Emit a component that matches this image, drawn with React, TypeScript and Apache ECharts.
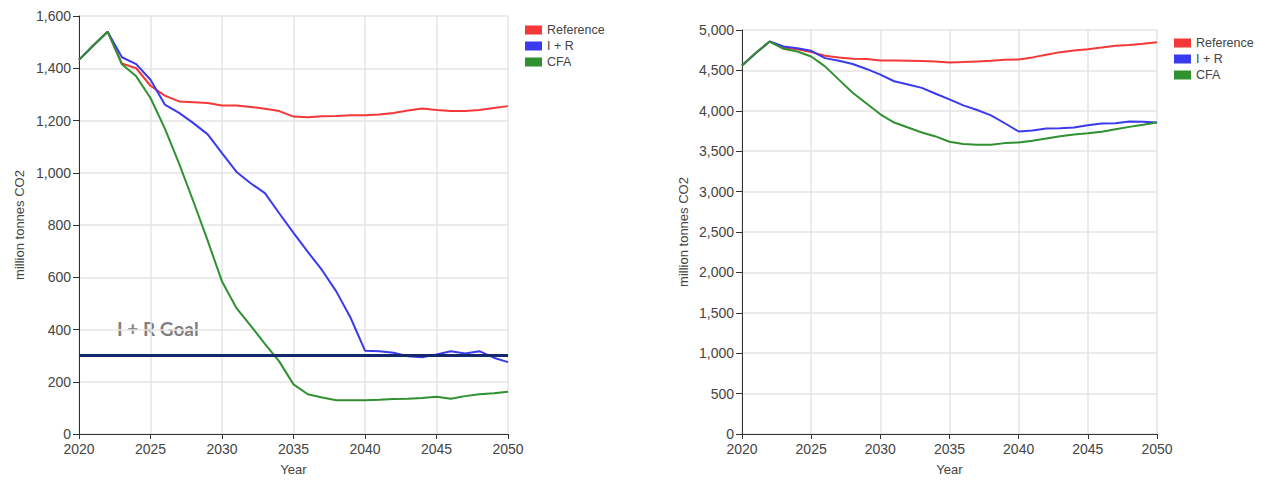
import React, { useEffect, useRef } from "react";
import * as echarts from "echarts";

const years = [
  2020, 2021, 2022, 2023, 2024, 2025, 2026, 2027, 2028, 2029, 2030, 2031, 2032, 2033, 2034, 2035,
  2036, 2037, 2038, 2039, 2040, 2041, 2042, 2043, 2044, 2045, 2046, 2047, 2048, 2049, 2050,
];

// Left chart
const refLeft = [
  1432, 1487, 1540, 1418, 1400, 1333, 1295, 1273, 1270, 1267, 1257, 1257, 1252, 1245, 1236, 1215,
  1212, 1216, 1217, 1220, 1220, 1223, 1229, 1238, 1246, 1240, 1236, 1236, 1240, 1248, 1255,
];
const irLeft = [
  1432, 1487, 1540, 1442, 1416, 1356, 1261, 1229, 1190, 1147, 1075, 1004, 960, 922, 845, 770,
  697, 627, 545, 444, 319, 317, 311, 298, 294, 304, 317, 308, 317, 292, 275,
];
const cfaLeft = [
  1432, 1487, 1540, 1415, 1369, 1286, 1170, 1035, 890, 740, 584, 483, 415, 345, 278, 190,
  152, 140, 129, 129, 129, 131, 134, 135, 138, 143, 135, 145, 152, 156, 162,
];
const goalLeft = 302;
const goalLabel = "I + R Goal";

// Right chart
const refRight = [
  4562, 4715, 4857, 4783, 4763, 4726, 4681, 4660, 4644, 4640, 4623, 4623, 4619, 4615, 4611, 4599,
  4603, 4611, 4619, 4632, 4636, 4661, 4693, 4726, 4746, 4763, 4783, 4804, 4815, 4830, 4848,
];
const irRight = [
  4562, 4715, 4857, 4795, 4775, 4742, 4652, 4620, 4579, 4518, 4448, 4366, 4325, 4284, 4211, 4141,
  4067, 4010, 3944, 3846, 3744, 3755, 3781, 3785, 3793, 3822, 3842, 3846, 3867, 3863, 3855,
];
const cfaRight = [
  4562, 4715, 4857, 4767, 4734, 4672, 4550, 4386, 4223, 4090, 3957, 3855, 3793, 3732, 3683, 3617,
  3588, 3580, 3580, 3600, 3609, 3629, 3658, 3686, 3707, 3723, 3740, 3772, 3801, 3826, 3855,
];

const seriesNames = ["Reference", "I + R", "CFA"];
const seriesColors = ["#f43737", "#3a3af0", "#2f912f"];
const yAxisName = "million tonnes CO2";
const xAxisName = "Year";

const FONT = "'Liberation Sans', Arial, sans-serif";

function pairs(vals: number[]) {
  return years.map((y, i) => [y, vals[i]]);
}

export default function App() {
  const ref = useRef<HTMLDivElement>(null);
  useEffect(() => {
    if (!ref.current) return;
    const chart = echarts.init(ref.current, undefined, { renderer: "svg" });

    const axisCommon = {
      axisLine: { show: true, lineStyle: { color: "#333", width: 1 } },
      splitLine: { show: true, lineStyle: { color: "#e5e5e5", width: 1.5 } },
      nameTextStyle: { color: "#444", fontSize: 13, fontFamily: FONT },
    };

    const makeX = (gridIndex: number) => ({
      ...axisCommon,
      type: "value",
      gridIndex,
      min: 2020,
      max: 2050,
      interval: 5,
      name: xAxisName,
      nameLocation: "middle",
      nameGap: 29,
      axisTick: { show: true, length: 5, lineStyle: { color: "#333" } },
      axisLabel: {
        color: "#444",
        fontSize: 14,
        fontFamily: FONT,
        margin: 8,
        formatter: (v: number) => String(v),
      },
    });

    const makeY = (gridIndex: number, max: number, interval: number, gap: number) => ({
      ...axisCommon,
      type: "value",
      gridIndex,
      min: 0,
      max,
      interval,
      name: yAxisName,
      nameLocation: "middle",
      nameGap: gap,
      axisTick: { show: true, length: 6, lineStyle: { color: "#333" } },
      axisLabel: { color: "#444", fontSize: 14, fontFamily: FONT, margin: 8 },
    });

    const mkSeries = (vals: number[], idx: number, gridIdx: number, extra: any = {}) => ({
      type: "line",
      name: seriesNames[idx],
      xAxisIndex: gridIdx,
      yAxisIndex: gridIdx,
      data: pairs(vals),
      showSymbol: false,
      symbol: "none",
      lineStyle: { color: seriesColors[idx], width: 2 },
      itemStyle: { color: seriesColors[idx] },
      ...extra,
    });

    const legendCommon = {
      orient: "vertical",
      icon: "rect",
      padding: 0,
      itemWidth: 17,
      itemHeight: 9,
      itemGap: 0,
      textStyle: { color: "#444", fontSize: 12.5, fontFamily: FONT, lineHeight: 16 },
      data: seriesNames,
    };

    chart.setOption({
      animation: false,
      backgroundColor: "#fff",
      grid: [
        { left: 79, top: 16, width: 429, height: 421 },
        { left: 742, top: 30, width: 415, height: 407 },
      ],
      legend: [
        { ...legendCommon, left: 525, top: 22 },
        { ...legendCommon, left: 1174, top: 35 },
      ],
      xAxis: [makeX(0), makeX(1)],
      yAxis: [makeY(0, 1600, 200, 53), makeY(1, 5000, 500, 52)],
      series: [
        mkSeries(refLeft, 0, 0),
        mkSeries(irLeft, 1, 0),
        mkSeries(cfaLeft, 2, 0, {
          markLine: {
            silent: true,
            symbol: "none",
            label: { show: false },
            lineStyle: { color: "#13296b", width: 3, type: "solid" },
            data: [{ yAxis: goalLeft }],
          },
        }),
        mkSeries(refRight, 0, 1),
        mkSeries(irRight, 1, 1),
        mkSeries(cfaRight, 2, 1),
      ],
      graphic: [
        {
          type: "text",
          left: 117,
          top: 319,
          style: {
            text: goalLabel,
            fill: "#7f7f7f",
            font: "bold 19px Lato, 'Open Sans', sans-serif",
          },
        },
      ],
    });
    return () => chart.dispose();
  }, []);

  return (
    <div
      ref={ref}
      style={{ position: "fixed", left: 0, top: 0, width: 1261, height: 481, background: "#fff" }}
    />
  );
}
